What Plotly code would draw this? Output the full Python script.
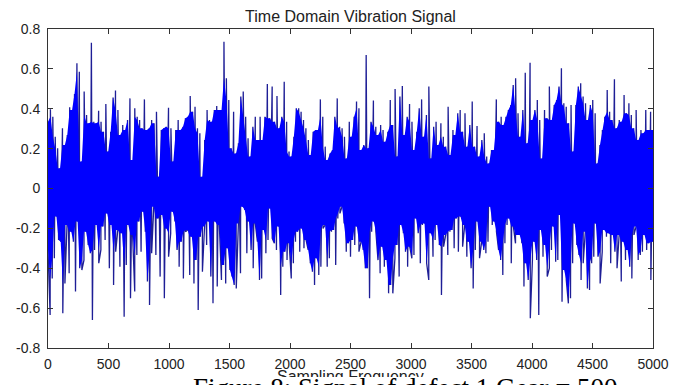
import numpy as np
import plotly.graph_objects as go

# Local upper extremes of the vibration signal, read left to right
upper_peaks = [
    0.335, 0.397, 0.360, 0.260, 0.202, 0.101, 0.302, 0.218, 0.268, 0.407,
    0.394, 0.474, 0.628, 0.586, 0.135, 0.486, 0.369, 0.327, 0.731, 0.335,
    0.327, 0.390, 0.335, 0.285, 0.424, 0.185, 0.285, 0.457, 0.491, 0.394,
    0.268, 0.319, 0.293, 0.344, 0.452, 0.143, 0.402, 0.360, 0.344, 0.302,
    0.447, 0.293, 0.302, 0.344, 0.327, 0.385, 0.059, 0.293, 0.302, 0.310,
    0.405, 0.302, 0.135, 0.293, 0.344, 0.293, 0.310, 0.352, 0.360, 0.464,
    0.385, 0.410, 0.302, 0.277, 0.059, 0.243, 0.394, 0.344, 0.335, 0.394,
    0.414, 0.394, 0.394, 0.736, 0.553, 0.444, 0.202, 0.385, 0.176, 0.227,
    0.461, 0.486, 0.360, 0.252, 0.160, 0.310, 0.360, 0.243, 0.360, 0.243,
    0.360, 0.524, 0.352, 0.511, 0.335, 0.464, 0.302, 0.360, 0.536, 0.335,
    0.185, 0.160, 0.260, 0.402, 0.402, 0.385, 0.344, 0.302, 0.243, 0.168,
    0.285, 0.293, 0.293, 0.447, 0.360, 0.210, 0.143, 0.176, 0.193, 0.360,
    0.452, 0.310, 0.302, 0.260, 0.151, 0.335, 0.260,
    0.360, 0.436, 0.402, 0.193, 0.218, 0.670, 0.202, 0.335, 0.441, 0.310,
    0.268, 0.319, 0.293, 0.235, 0.285, 0.444, 0.319, 0.499, 0.160, 0.461,
    0.514, 0.268, 0.360, 0.424, 0.335, 0.193, 0.285, 0.402, 0.447, 0.260,
    0.369, 0.511, 0.151, 0.310, 0.335, 0.218, 0.327, 0.260, 0.210, 0.410,
    0.168, 0.293, 0.268, 0.377, 0.394, 0.285, 0.377, 0.210, 0.319, 0.436,
    0.210, 0.314, 0.160, 0.243, 0.277, 0.160, 0.126, 0.193, 0.193, 0.447,
    0.335, 0.360, 0.319, 0.360, 0.394, 0.419, 0.519, 0.553, 0.377, 0.260,
    0.394, 0.581, 0.227, 0.631, 0.344, 0.394, 0.444, 0.344, 0.151, 0.394,
    0.352, 0.511, 0.344, 0.419, 0.444, 0.511, 0.603, 0.427, 0.410, 0.327,
    0.419, 0.185, 0.419, 0.511, 0.528, 0.461, 0.427, 0.344, 0.419, 0.444,
    0.377, 0.126, 0.218, 0.293, 0.360, 0.494, 0.385, 0.344, 0.548, 0.302,
    0.344, 0.335, 0.469, 0.377, 0.427, 0.369, 0.302, 0.394, 0.243, 0.293,
    0.277, 0.394, 0.293, 0.385, 0.293,
]

# Local lower extremes of the vibration signal, read left to right
lower_peaks = [
    -0.308, -0.635, -0.451, -0.350, -0.141, -0.258, -0.267, -0.626, -0.476, -0.183,
    -0.425, -0.217, -0.267, -0.517, -0.166, -0.400, -0.409, -0.359, -0.217, -0.283,
    -0.325, -0.660, -0.308, -0.183, -0.375, -0.308, -0.191, -0.258, -0.125, -0.400,
    -0.183, -0.484, -0.317, -0.208, -0.392, -0.225, -0.643, -0.384, -0.183, -0.551,
    -0.233, -0.517, -0.334, -0.166, -0.317, -0.116, -0.217, -0.467, -0.584, -0.325,
    -0.091, -0.334, -0.150, -0.442, -0.133, -0.551, -0.200, -0.342, -0.225, -0.116,
    -0.166, -0.308, -0.392, -0.267, -0.451, -0.217, -0.208, -0.434, -0.242, -0.476,
    -0.359, -0.609, -0.242, -0.417, -0.191, -0.283, -0.166, -0.442, -0.576, -0.166,
    -0.492, -0.183, -0.459, -0.384, -0.476, -0.300, -0.409, -0.442, -0.484, -0.501,
    -0.175, -0.425, -0.091, -0.108, -0.325, -0.166, -0.308, -0.400, -0.175, -0.267,
    -0.459, -0.451, -0.208, -0.325, -0.258, -0.100, -0.250, -0.275, -0.308, -0.191,
    -0.534, -0.392, -0.317, -0.359, -0.275, -0.451, -0.375, -0.267, -0.217, -0.317,
    -0.200, -0.300, -0.258, -0.308, -0.375, -0.417, -0.484, -0.350, -0.434, -0.392,
    -0.200, -0.183, -0.392, -0.350, -0.217, -0.208, -0.384, -0.150, -0.125, -0.091,
    -0.175, -0.317, -0.275, -0.342, -0.258, -0.283, -0.191, -0.317, -0.267, -0.308,
    -0.400, -0.400, -0.551, -0.217, -0.166, -0.217, -0.359, -0.425, -0.292, -0.392,
    -0.359, -0.526, -0.484, -0.526, -0.350, -0.283, -0.442, -0.183, -0.225, -0.317,
    -0.392, -0.292, -0.350, -0.334, -0.150, -0.225, -0.375, -0.183, -0.175, -0.375,
    -0.459, -0.225, -0.342, -0.258, -0.183, -0.283, -0.534, -0.292, -0.233, -0.334,
    -0.217, -0.208, -0.300, -0.150, -0.317, -0.141, -0.292, -0.183, -0.342, -0.267,
    -0.400, -0.501, -0.308, -0.166, -0.350, -0.267, -0.308, -0.325, -0.267, -0.091,
    -0.183, -0.166, -0.217, -0.308, -0.359, -0.434, -0.275, -0.183, -0.150, -0.375,
    -0.191, -0.275, -0.233, -0.233, -0.275, -0.492, -0.375, -0.459, -0.651, -0.359,
    -0.267, -0.359, -0.635, -0.208, -0.342, -0.283, -0.442, -0.400, -0.308, -0.191,
    -0.367, -0.359, -0.133, -0.568, -0.409, -0.459, -0.576, -0.551, -0.375, -0.175,
    -0.283, -0.334, -0.459, -0.375, -0.217, -0.501, -0.509, -0.375, -0.342, -0.175,
    -0.342, -0.476, -0.317, -0.208, -0.242, -0.225, -0.375, -0.233, -0.317, -0.400,
    -0.233, -0.467, -0.267, -0.359, -0.308, -0.392, -0.451, -0.233, -0.191, -0.359,
    -0.334, -0.317, -0.233, -0.308, -0.275, -0.459, -0.267,
]

n_samples = 5000
x_ticks = [0, 500, 1000, 1500, 2000, 2500, 3000, 3500, 4000, 4500, 5000]
y_ticks = [-0.8, -0.6, -0.4, -0.2, 0, 0.2, 0.4, 0.6, 0.8]
y_tick_text = ["-0.8", "-0.6", "-0.4", "-0.2", "0", "0.2", "0.4", "0.6", "0.8"]

title_text = "Time Domain Vibration Signal"
x_label = "Sampling Frequency"
caption = "Figure 8: Signal of defect 1 Gear = 500"

up = np.array(upper_peaks)
lo = np.array(lower_peaks)

# sample positions of the extremes (evenly spread over the record)
x_hi = np.linspace(0, n_samples, len(up))
x_lo = np.linspace(0, n_samples, len(lo))
xs = np.concatenate([x_hi, x_lo])
ys = np.concatenate([up, lo])
order = np.argsort(xs, kind="stable")
xs, ys = xs[order], ys[order]

# densely packed core of the signal: where neighbouring extremes overlap
core_top = np.minimum(up, np.append(up[1:], up[-1]))
core_bot = np.maximum(lo, np.append(lo[1:], lo[-1]))

fig = go.Figure()
fig.add_trace(go.Scatter(x=xs, y=ys, mode="lines",
                         line=dict(color="#1e1e96", width=1.3, simplify=False),
                         hoverinfo="skip", showlegend=False))
fig.add_trace(go.Scatter(x=x_lo, y=core_bot, mode="lines",
                         line=dict(width=0, color="#0000ff"),
                         hoverinfo="skip", showlegend=False))
fig.add_trace(go.Scatter(x=x_hi, y=core_top, mode="lines", fill="tonexty",
                         fillcolor="#0000ff", line=dict(width=0, color="#0000ff"),
                         hoverinfo="skip", showlegend=False))

axis_common = dict(showline=True, linecolor="#333333", linewidth=1, mirror="ticks",
                   ticks="inside", ticklen=5, tickcolor="#333333",
                   showgrid=False, zeroline=False,
                   tickfont=dict(family="Liberation Sans, Arial, sans-serif",
                                 size=14, color="#222222"))

fig.update_xaxes(range=[0, n_samples], tickvals=x_ticks,
                 ticktext=[str(v) for v in x_ticks], ticklabelstandoff=3,
                 **axis_common)
fig.update_yaxes(range=[-0.8, 0.8], tickvals=y_ticks, ticktext=y_tick_text,
                 ticklabelstandoff=4, **axis_common)

fig.update_layout(
    width=687, height=385,
    margin=dict(l=48, r=34, t=29, b=37),
    paper_bgcolor="white", plot_bgcolor="white",
    title=dict(text=title_text, x=0.5, xref="paper", y=1 - 16 / 385,
               yref="container", yanchor="middle", xanchor="center",
               font=dict(family="Liberation Sans, Arial, sans-serif", size=16,
                         color="#222222")),
    annotations=[
        dict(text=x_label, xref="paper", yref="paper", x=0.5, y=-0.0596,
             xanchor="center", yanchor="top", showarrow=False, borderpad=0,
             font=dict(family="Liberation Sans, Arial, sans-serif", size=16,
                       color="#222222")),
        dict(text=" ", xref="paper", yref="paper", x=0.5, y=-0.0909,
             xanchor="center", yanchor="top", showarrow=False, width=720,
             height=12, bgcolor="white", borderpad=0, borderwidth=0),
        dict(text=caption, xref="paper", yref="paper", x=(405 - 48) / 605,
             y=-0.0752, xanchor="center", yanchor="top", showarrow=False,
             borderpad=0,
             font=dict(family="Liberation Serif, Times New Roman, serif",
                       size=27, color="black")),
    ],
)

fig.write_html("out.html")
